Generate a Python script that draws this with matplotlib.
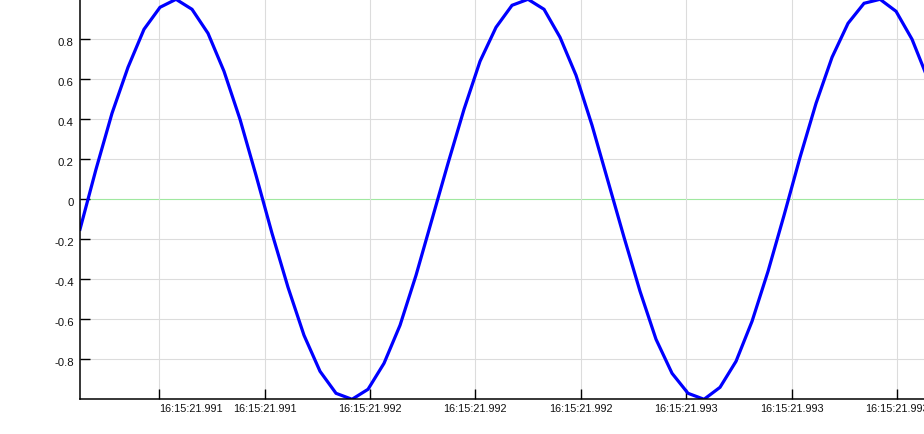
import numpy as np
import matplotlib
matplotlib.use("Agg")
import matplotlib.pyplot as plt
from matplotlib.transforms import ScaledTranslation

# ---- data (time in ms within second 16:15:21) ----
t_start_ms = 991.083
sample_step_ms = 0.0506
signal_values = [
    -0.15, 0.15, 0.43, 0.66, 0.85, 0.96, 1.00, 0.95, 0.83, 0.64,
    0.40, 0.12, -0.17, -0.44, -0.68, -0.86, -0.97, -1.00, -0.95, -0.82,
    -0.63, -0.38, -0.10, 0.18, 0.45, 0.69, 0.86, 0.97, 1.00, 0.95,
    0.81, 0.62, 0.37, 0.09, -0.19, -0.46, -0.70, -0.87, -0.97, -1.00,
    -0.94, -0.81, -0.61, -0.36, -0.08, 0.21, 0.48, 0.71, 0.88, 0.98,
    1.00, 0.94, 0.80, 0.60,
]
sample_times = t_start_ms + sample_step_ms * np.arange(len(signal_values))

x_tick_times = [991.333, 991.667, 992.0, 992.333, 992.667, 993.0, 993.333, 993.667]
x_tick_labels = ["16:15:21.991", "16:15:21.991", "16:15:21.992", "16:15:21.992",
                 "16:15:21.992", "16:15:21.993", "16:15:21.993", "16:15:21.993"]
y_tick_values = [0.8, 0.6, 0.4, 0.2, 0, -0.2, -0.4, -0.6, -0.8]
y_tick_labels = ["0.8", "0.6", "0.4", "0.2", "0", "-0.2", "-0.4", "-0.6", "-0.8"]

x_min, x_max = 991.083, 993.752
y_min, y_max = -0.996, 0.9965

# ---- figure ----
W, H, DPI = 924, 434, 100
fig = plt.figure(figsize=(W / DPI, H / DPI), dpi=DPI)
ax = fig.add_axes([80 / W, 35.5 / H, 844 / W, 398.5 / H])

font = "Liberation Sans"
ax.set_xlim(x_min, x_max)
ax.set_ylim(y_min, y_max)

# grid
for yv in y_tick_values:
    if yv == 0:
        ax.axhline(0, color="#a0e8a0", lw=0.8, zorder=1)
    else:
        ax.axhline(yv, color="#dcdcdc", lw=0.8, zorder=1)
for xv in x_tick_times:
    ax.axvline(xv, color="#dcdcdc", lw=0.8, zorder=1)

ax.plot(sample_times, signal_values, color="#0000ff", lw=2.3, zorder=3,
        solid_joinstyle="miter")

for s in ["top", "right"]:
    ax.spines[s].set_visible(False)
for s in ["left", "bottom"]:
    ax.spines[s].set_color("black")
    ax.spines[s].set_linewidth(1.1)
    ax.spines[s].set_zorder(4)

ax.set_xticks(x_tick_times)
ax.set_xticklabels(x_tick_labels, fontfamily=font, fontsize=7.8)
ax.set_yticks(y_tick_values)
ax.set_yticklabels(y_tick_labels, fontfamily=font, fontsize=8.2)
ax.tick_params(axis="both", direction="in", length=7, width=1.0, color="black",
               labelcolor="#111111")
ax.tick_params(axis="x", pad=4)
ax.tick_params(axis="y", pad=4.5)

# first x label is left aligned at its tick
xl = ax.get_xticklabels()
xl[0].set_horizontalalignment("left")

# y labels sit slightly below their ticks
for lab in ax.get_yticklabels():
    lab.set_transform(lab.get_transform() + ScaledTranslation(0, -3.0 / DPI, fig.dpi_scale_trans))

fig.savefig("out.png", dpi=DPI)
